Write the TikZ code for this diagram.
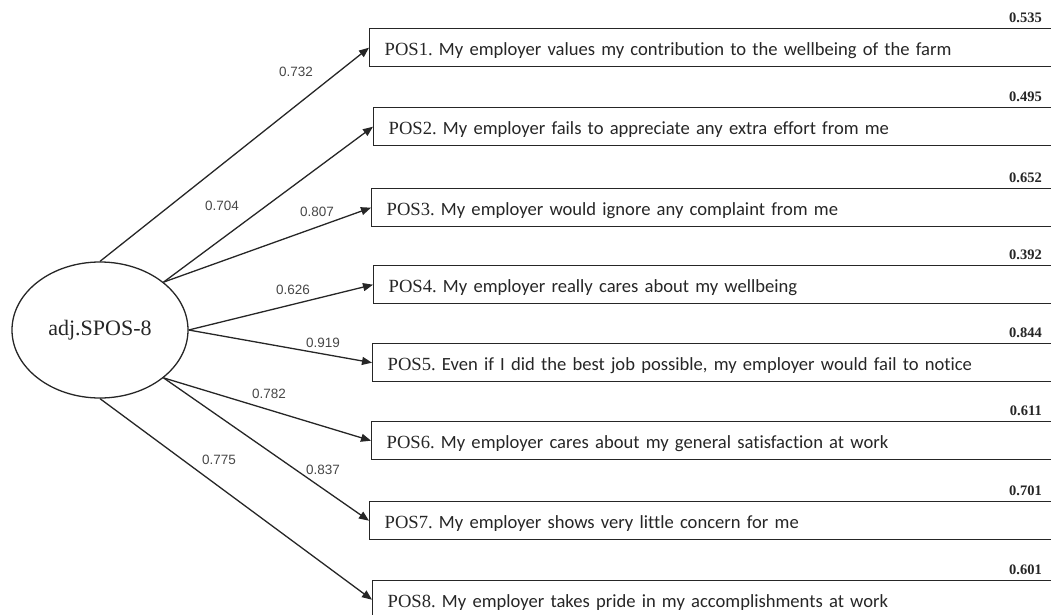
\documentclass[tikz,border=0pt]{standalone}
\usepackage{fontspec}
\setmainfont{Liberation Serif}
\newfontfamily\itemfont[Ligatures=NoCommon]{Carlito}
\newfontfamily\loadfont{Liberation Sans}
\usetikzlibrary{shapes.geometric,arrows.meta}
\definecolor{ink}{gray}{0.15}
\begin{document}
\begin{tikzpicture}[x=1pt,y=-1pt,
  latent/.style={ellipse,draw=ink,line width=1.3pt,minimum width=176pt,minimum height=136pt,
    inner sep=0pt,font=\fontsize{22}{24}\selectfont,text=ink},
  itembox/.style={rectangle,draw=ink,line width=1.4pt,anchor=north west,minimum width=720pt,
    minimum height=38pt,text width=690pt,align=left,text height=16pt,text depth=0pt,
    inner ysep=0pt,font=\fontsize{18.6}{21}\selectfont,text=ink},
  path/.style={draw=ink,line width=1.3pt,-{Triangle[length=10pt,width=8pt]}},
  load/.style={font=\loadfont\fontsize{13.5}{15}\selectfont,text=ink!85,inner sep=0pt},
  resid/.style={font=\bfseries\fontsize{14.5}{16}\selectfont,text=ink,anchor=base east,inner sep=0pt}]
\useasboundingbox (0,0) rectangle (1051,615);
\clip (0,0) rectangle (1051,615);

% latent factor
\node[latent] (lat) at (100,330) {adj.SPOS-8};

% indicator items
\node[itembox,inner xsep=12pt] (b1) at (369,28)  {POS1.\ {\itemfont My employer values my contribution to the wellbeing of the farm}};
\node[itembox,inner xsep=13pt] (b2) at (373,107) {POS2.\ {\itemfont My employer fails to appreciate any extra effort from me}};
\node[itembox,inner xsep=4pt]  (b3) at (371,188) {POS3.\ {\itemfont My employer would ignore any complaint from me}};
\node[itembox,inner xsep=13pt] (b4) at (373,265) {POS4.\ {\itemfont My employer really cares about my wellbeing}};
\node[itembox,inner xsep=4pt]  (b5) at (372,343) {POS5.\ {\itemfont Even if I did the best job possible, my employer would fail to notice}};
\node[itembox,inner xsep=14pt] (b6) at (371,421) {POS6.\ {\itemfont My employer cares about my general satisfaction at work}};
\node[itembox,inner xsep=12pt] (b7) at (369,501) {POS7.\ {\itemfont My employer shows very little concern for me}};
\node[itembox,inner xsep=13pt] (b8) at (372,580) {POS8.\ {\itemfont My employer takes pride in my accomplishments at work}};

% residual variances
\node[resid] (r1) at (1042,22.5)  {0.535};
\node[resid] (r2) at (1042,101.5) {0.495};
\node[resid] (r3) at (1042,182.5) {0.652};
\node[resid] (r4) at (1042,259.5) {0.392};
\node[resid] (r5) at (1042,337.5) {0.844};
\node[resid] (r6) at (1042,415.5) {0.611};
\node[resid] (r7) at (1042,495.5) {0.701};
\node[resid] (r8) at (1042,574.5) {0.601};

% factor loadings
\draw[path] (lat.90)  -- (b1.west);
\draw[path] (lat.37)  -- (b2.west);
\draw[path] (lat.37)  -- (b3.west);
\draw[path] (lat.0)   -- (b4.west);
\draw[path] (lat.0)   -- (b5.west);
\draw[path] (lat.-37) -- (b6.west);
\draw[path] (lat.-37) -- (b7.west);
\draw[path] (lat.270) -- (b8.west);

\node[load] (l1) at (296,72)  {0.732};
\node[load] (l2) at (222,206) {0.704};
\node[load] (l3) at (317,212) {0.807};
\node[load] (l4) at (293,290) {0.626};
\node[load] (l5) at (323,343) {0.919};
\node[load] (l6) at (269,394) {0.782};
\node[load] (l7) at (219,460) {0.775};
\node[load] (l8) at (323,470) {0.837};
\end{tikzpicture}
\end{document}
